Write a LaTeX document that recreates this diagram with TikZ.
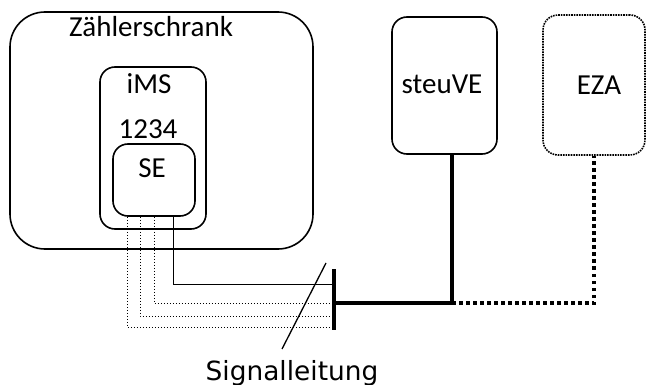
\documentclass[tikz,border=0pt]{standalone}
\usepackage{fontspec}
\setmainfont{Carlito}
\newfontfamily\dejavu{DejaVu Sans}
\tikzset{
  box/.style={draw,line width=1.6pt,rounded corners=15pt,inner sep=0pt},
  lbl/.style={anchor=base,inner sep=0pt,font=\fontsize{29}{34}\selectfont},
  sigline/.style={line width=1pt},
  sigdot/.style={line width=1pt,dotted},
  bus/.style={line width=3.5pt},
  busdot/.style={line width=3.5pt,dash pattern=on 3.5pt off 3.5pt}
}
\begin{document}
\begin{tikzpicture}[x=1pt,y=-1pt]
  \useasboundingbox (0,0) rectangle (646,385);
  % boxes
  \node[box,rounded corners=35pt,minimum width=303pt,minimum height=237pt] (zs) at (161.5,130.5) {};
  \node[box,minimum width=106pt,minimum height=162pt] (ims) at (153,148) {};
  \node[box,minimum width=82pt,minimum height=72pt] (se) at (154,180) {};
  \node[box,minimum width=105pt,minimum height=137pt] (steuve) at (444.5,85.5) {};
  \node[box,densely dotted,minimum width=102pt,minimum height=140pt] (eza) at (594,85) {};
  % texts
  \node[lbl] (zstext) at (151,37) {Zählerschrank};
  \node[lbl] (imstext) at (149,94) {iMS};
  \node[lbl] (nr) at (148,139) {1234};
  \node[lbl] (setext) at (152,178) {SE};
  \node[lbl] (steuvetext) at (442,94) {steuVE};
  \node[lbl] (ezatext) at (599,95) {EZA};
  \node[lbl,font=\dejavu\fontsize{26.4}{31}\selectfont] (sig) at (292,380) {Signalleitung};
  % bar and bus
  \node[fill,inner sep=0pt,minimum width=4.5pt,minimum height=61pt] (bar) at (334,299.5) {};
  \coordinate (j) at (452,303);
  \draw[bus] (bar.east |- j) -- (j) -- (j |- steuve.south);
  \draw[busdot] (j) -| (eza.south);
  % signal lines
  \draw[sigline] (se.south -| 173,0) |- (bar.west |- 0,284);
  \draw[sigdot] (se.south -| 154,0) |- (bar.west |- 0,303);
  \draw[sigdot] (se.south -| 140,0) |- (bar.west |- 0,316);
  \draw[sigdot] (se.south -| 127,0) |- (bar.west |- 0,327);
  % marker
  \coordinate (tick) at (326,263);
  \draw[line width=1.3pt] (tick) -- (282,349);
\end{tikzpicture}
\end{document}
